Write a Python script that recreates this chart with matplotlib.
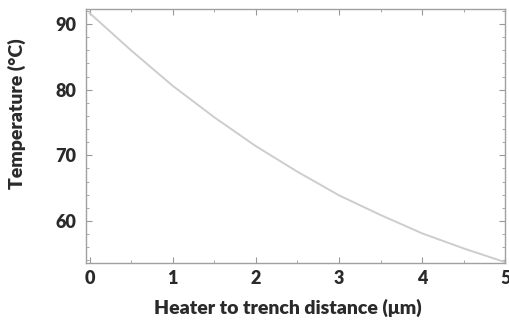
import matplotlib
matplotlib.use('Agg')
import matplotlib.pyplot as plt
from matplotlib.ticker import MultipleLocator

# values
distance = [0, 0.5, 1, 1.5, 2, 2.5, 3, 3.5, 4, 4.5, 5]
temperature = [91.7, 86.0, 80.6, 75.8, 71.4, 67.5, 63.9, 60.9, 58.1, 55.8, 53.7]
xticks = [0, 1, 2, 3, 4, 5]
yticks = [60, 70, 80, 90]

plt.rcParams['font.family'] = ['Lato', 'DejaVu Sans']

fig = plt.figure(figsize=(5.1, 3.23), dpi=100)
ax = fig.add_axes([0.169, 0.186, 0.822, 0.786])

ax.plot(distance, temperature, color='#cdcdcd', lw=1.4)

ax.set_xlim(-0.04, 5.0)
ax.set_ylim(53.6, 92.3)
ax.set_xticks(xticks)
ax.set_yticks(yticks)
ax.xaxis.set_minor_locator(MultipleLocator(0.5))
ax.yaxis.set_minor_locator(MultipleLocator(2))
ax.tick_params(which='both', direction='in', top=True, right=True,
               colors='#999999', labelcolor='#2a2a2a', labelsize=13)
ax.tick_params(which='major', length=4, width=0.8)
ax.tick_params(which='minor', length=2, width=0.6)
ax.tick_params(axis='x', pad=5)
ax.tick_params(axis='y', pad=7)
for lbl in ax.get_xticklabels() + ax.get_yticklabels():
    lbl.set_fontweight('heavy')
for s in ax.spines.values():
    s.set_color('#a0a0a0')
    s.set_linewidth(1.0)

ax.set_xlabel('Heater to trench distance (\u03bcm)', fontsize=14,
              fontweight='heavy', color='#2a2a2a')
ax.set_ylabel('Temperature (\u00b0C)', fontsize=14, fontweight='heavy',
              color='#2a2a2a')
ax.xaxis.set_label_coords(0.48, -0.14)
ax.yaxis.set_label_coords(-0.143, 0.59)

fig.savefig('out.png', dpi=100)
